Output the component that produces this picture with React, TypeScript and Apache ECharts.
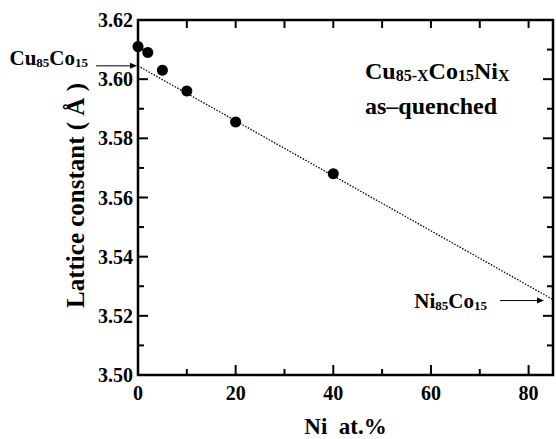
import React, { useEffect, useRef } from "react";
import * as echarts from "echarts";

// Measured data: Ni content (at.%) vs lattice constant (Å)
const niContent = [0, 2, 5, 10, 20, 40];
const latticeConstant = [3.611, 3.609, 3.603, 3.596, 3.5855, 3.568];

// Linear (Vegard) line between Cu85Co15 and Ni85Co15
const fitNi = [0, 85];
const fitLattice = [3.6045, 3.5255];

// Axis ranges and tick values
const xMin = 0;
const xMax = 85;
const yMin = 3.5;
const yMax = 3.62;
const xMajorTicks = [0, 20, 40, 60, 80];
const xMinorTicks = [10, 30, 50, 70];
const yMajorTicks = [3.5, 3.52, 3.54, 3.56, 3.58, 3.6, 3.62];
const yMinorTicks = [3.51, 3.53, 3.55, 3.57, 3.59, 3.61];

const xTitle = "Ni  at.%";
const yTitle = "Lattice constant ( Å )";

const FONT = "Liberation Serif";

export default function App() {
  const ref = useRef<HTMLDivElement>(null);

  useEffect(() => {
    if (!ref.current) return;
    const chart = echarts.init(ref.current, undefined, { renderer: "svg" });

    chart.setOption({
      animation: false,
      backgroundColor: "#fff",
      grid: { left: 138, right: 3, top: 20, bottom: 64 },
      xAxis: {
        type: "value", min: xMin, max: xMax,
        axisLine: { show: false }, axisTick: { show: false }, axisLabel: { show: false }, splitLine: { show: false },
      },
      yAxis: {
        type: "value", min: yMin, max: yMax,
        axisLine: { show: false }, axisTick: { show: false }, axisLabel: { show: false }, splitLine: { show: false },
      },
      series: [
        {
          type: "line",
          data: fitNi.map((x, i) => [x, fitLattice[i]]),
          symbol: "none",
          lineStyle: { color: "#000", width: 1.3, type: [1.5, 1.5] },
          z: 1,
        },
        {
          type: "scatter",
          data: niContent.map((x, i) => [x, latticeConstant[i]]),
          symbol: "circle",
          symbolSize: 11,
          itemStyle: { color: "#000", opacity: 1 },
          clip: false,
          z: 3,
        },
      ],
    });

    const px = (x: number, y: number) =>
      chart.convertToPixel({ xAxisIndex: 0, yAxisIndex: 0 }, [x, y]) as number[];

    const [L, B] = px(xMin, yMin);
    const [R, T] = px(xMax, yMax);
    const els: any[] = [];

    // frame
    els.push({
      type: "rect",
      shape: { x: L, y: T, width: R - L, height: B - T },
      style: { fill: "none", stroke: "#000", lineWidth: 2.5 },
      z: 10,
    });

    // ticks drawn as thin filled rectangles
    const vtick = (x: number, yEdge: number, len: number) => {
      const y0 = len > 0 ? yEdge : yEdge + len;
      els.push({
        type: "rect",
        shape: { x: x - 1, y: y0, width: 2, height: Math.abs(len) },
        style: { fill: "#000" },
        z: 11,
      });
    };
    const htick = (y: number, xEdge: number, len: number) => {
      const x0 = len > 0 ? xEdge : xEdge + len;
      els.push({
        type: "rect",
        shape: { x: x0, y: y - 1, width: Math.abs(len), height: 2 },
        style: { fill: "#000" },
        z: 11,
      });
    };

    xMajorTicks.forEach((v) => {
      const x = px(v, yMin)[0];
      vtick(x, B, -10);
      if (v > xMin) vtick(x, T, 8);
      els.push({
        type: "text",
        x,
        y: B + 8,
        style: { text: String(v), fontFamily: FONT, fontWeight: "bold", fontSize: 20, fill: "#000", align: "center", verticalAlign: "top" },
        z: 10,
      });
    });
    xMinorTicks.forEach((v) => {
      const x = px(v, yMin)[0];
      vtick(x, B, -6);
      vtick(x, T, 8);
    });
    yMajorTicks.forEach((v) => {
      const y = px(xMin, v)[1];
      htick(y, L, 10);
      htick(y, R, -10);
      els.push({
        type: "text",
        x: L - 5,
        y,
        style: { text: v.toFixed(2), fontFamily: FONT, fontWeight: "bold", fontSize: 20, fill: "#000", align: "right", verticalAlign: "middle" },
        z: 10,
      });
    });
    yMinorTicks.forEach((v) => {
      const y = px(xMin, v)[1];
      htick(y, L, 6);
      htick(y, R, -6);
    });

    // axis titles
    els.push({
      type: "text",
      x: (L + R) / 2,
      y: B + 51,
      style: { text: xTitle, fontFamily: FONT, fontWeight: "bold", fontSize: 23, fill: "#000", align: "center", verticalAlign: "middle" },
      z: 10,
    });
    els.push({
      type: "text",
      x: L - 63,
      y: (T + B) / 2 - 2,
      rotation: Math.PI / 2,
      style: { text: yTitle, fontFamily: FONT, fontWeight: "bold", fontSize: 25, fill: "#000", align: "center", verticalAlign: "middle" },
      z: 10,
    });

    // end-member arrows and labels
    const p0 = px(fitNi[0], fitLattice[0]);
    const p1 = px(fitNi[1], fitLattice[1]);

    const richSmall = () => ({
      m: { fontFamily: FONT, fontWeight: "bold", fontSize: 21, lineHeight: 24, verticalAlign: "bottom", fill: "#000" },
      s: { fontFamily: FONT, fontWeight: "bold", fontSize: 13, lineHeight: 11, verticalAlign: "bottom", fill: "#000" },
    });
    const richBig = () => ({
      m: { fontFamily: FONT, fontWeight: "bold", fontSize: 24, lineHeight: 27, verticalAlign: "bottom", fill: "#000" },
      s: { fontFamily: FONT, fontWeight: "bold", fontSize: 16, lineHeight: 12, verticalAlign: "bottom", fill: "#000" },
    });

    const arrow = (x1: number, x2: number, y: number) => {
      els.push({ type: "line", shape: { x1, y1: y, x2: x2 - 5, y2: y }, style: { stroke: "#000", lineWidth: 1 }, z: 10 });
      els.push({ type: "polygon", shape: { points: [[x2, y], [x2 - 7, y - 3], [x2 - 7, y + 3]] }, style: { fill: "#000" }, z: 10 });
    };

    arrow(p0[0] - 42, p0[0] - 1, p0[1]);
    els.push({
      type: "text",
      x: p0[0] - 50,
      y: p0[1] - 9,
      style: { text: "{m|Cu}{s|85}{m|Co}{s|15}", rich: richSmall(), align: "right", verticalAlign: "middle" },
      z: 10,
    });
    arrow(p1[0] - 53, p1[0] - 9, p1[1] + 1);
    els.push({
      type: "text",
      x: p1[0] - 66,
      y: p1[1],
      style: { text: "{m|Ni}{s|85}{m|Co}{s|15}", rich: richSmall(), align: "right", verticalAlign: "middle" },
      z: 10,
    });

    // composition annotation
    els.push({
      type: "text",
      left: 365,
      top: 59,
      style: { text: "{m|Cu}{s|85-X}{m|Co}{s|15}{m|Ni}{s|X}", rich: richBig() },
      z: 10,
    });
    els.push({
      type: "text",
      left: 365,
      top: 94,
      style: { text: "as\u2013quenched", fontFamily: FONT, fontWeight: "bold", fontSize: 24, fill: "#000" },
      z: 10,
    });

    chart.setOption({ graphic: els });

    return () => chart.dispose();
  }, []);

  return (
    <div
      ref={ref}
      style={{ position: "absolute", left: 0, top: 0, width: 556, height: 439, background: "#fff" }}
    />
  );
}
